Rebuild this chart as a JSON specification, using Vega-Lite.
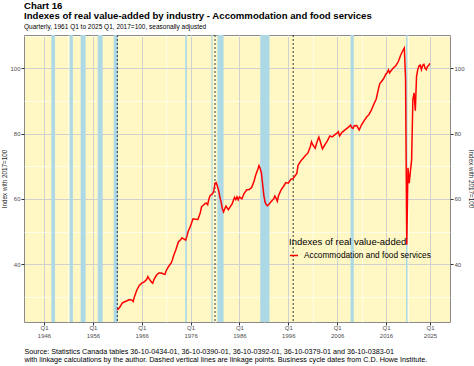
{
  "$schema": "https://vega.github.io/schema/vega-lite/v6.json",
  "width": 426,
  "height": 287,
  "autosize": {"type": "none"},
  "padding": {"left": 24, "top": 35, "right": 24, "bottom": 44},
  "background": "white",
  "config": {
    "font": "Liberation Sans",
    "view": {"fill": "#FFF8C5", "stroke": "#8a8a8a", "strokeWidth": 1}
  },
  "title": {
    "text": ["Chart 16", "Indexes of real value-added by industry - Accommodation and food services"],
    "subtitle": "Quarterly, 1961 Q1 to 2025 Q1, 2017=100, seasonally adjusted",
    "anchor": "start",
    "frame": "group",
    "fontSize": 9.6,
    "fontWeight": "bold",
    "lineHeight": 10.5,
    "color": "black",
    "subtitleFontSize": 6.5,
    "subtitleColor": "black",
    "subtitlePadding": 3,
    "offset": 4
  },
  "datasets": {
    "series": [
      {"t": 1961.0, "v": 26.0}, {"t": 1961.5, "v": 26.8}, {"t": 1962.0, "v": 28.1}, {"t": 1962.5, "v": 28.5},
      {"t": 1963.0, "v": 28.8}, {"t": 1963.5, "v": 29.2}, {"t": 1964.0, "v": 29.0}, {"t": 1964.25, "v": 28.6},
      {"t": 1964.5, "v": 30.0}, {"t": 1965.0, "v": 32.1}, {"t": 1965.5, "v": 33.5}, {"t": 1966.0, "v": 34.2},
      {"t": 1966.5, "v": 34.6}, {"t": 1967.0, "v": 35.3}, {"t": 1967.25, "v": 36.2}, {"t": 1967.5, "v": 35.6},
      {"t": 1968.0, "v": 34.5}, {"t": 1968.25, "v": 34.2}, {"t": 1968.5, "v": 35.3}, {"t": 1969.0, "v": 36.6},
      {"t": 1969.5, "v": 37.3}, {"t": 1970.0, "v": 37.3}, {"t": 1970.5, "v": 37.0}, {"t": 1970.75, "v": 36.9},
      {"t": 1971.0, "v": 38.0}, {"t": 1971.5, "v": 39.3}, {"t": 1972.0, "v": 40.3}, {"t": 1972.25, "v": 41.2},
      {"t": 1972.5, "v": 42.5}, {"t": 1973.0, "v": 44.5}, {"t": 1973.5, "v": 46.8}, {"t": 1974.0, "v": 47.6},
      {"t": 1974.25, "v": 48.1}, {"t": 1974.5, "v": 47.8}, {"t": 1975.0, "v": 47.4}, {"t": 1975.25, "v": 48.6},
      {"t": 1975.5, "v": 50.0}, {"t": 1976.0, "v": 51.8}, {"t": 1976.5, "v": 53.9}, {"t": 1977.0, "v": 53.8},
      {"t": 1977.5, "v": 53.7}, {"t": 1978.0, "v": 55.8}, {"t": 1978.25, "v": 57.6}, {"t": 1978.5, "v": 57.9},
      {"t": 1979.0, "v": 58.6}, {"t": 1979.25, "v": 58.7}, {"t": 1979.5, "v": 58.2}, {"t": 1979.75, "v": 60.0},
      {"t": 1980.0, "v": 61.0}, {"t": 1980.5, "v": 61.6}, {"t": 1980.75, "v": 62.5}, {"t": 1981.0, "v": 64.8},
      {"t": 1981.25, "v": 65.0}, {"t": 1981.5, "v": 63.8}, {"t": 1981.75, "v": 62.5}, {"t": 1982.0, "v": 60.5},
      {"t": 1982.25, "v": 59.0}, {"t": 1982.5, "v": 57.0}, {"t": 1982.75, "v": 56.0}, {"t": 1983.0, "v": 57.0},
      {"t": 1983.25, "v": 57.8}, {"t": 1983.5, "v": 57.2}, {"t": 1983.75, "v": 56.7}, {"t": 1984.0, "v": 57.3},
      {"t": 1984.5, "v": 58.5}, {"t": 1985.0, "v": 60.5}, {"t": 1985.25, "v": 59.8}, {"t": 1985.5, "v": 60.6},
      {"t": 1985.75, "v": 59.7}, {"t": 1986.0, "v": 60.6}, {"t": 1986.5, "v": 60.0}, {"t": 1987.0, "v": 61.8},
      {"t": 1987.5, "v": 62.8}, {"t": 1988.0, "v": 62.9}, {"t": 1988.5, "v": 63.5}, {"t": 1989.0, "v": 65.5},
      {"t": 1989.25, "v": 66.9}, {"t": 1989.5, "v": 68.0}, {"t": 1989.75, "v": 69.0}, {"t": 1990.0, "v": 70.2},
      {"t": 1990.25, "v": 69.3}, {"t": 1990.5, "v": 67.9}, {"t": 1990.75, "v": 64.5}, {"t": 1991.0, "v": 61.0},
      {"t": 1991.25, "v": 59.0}, {"t": 1991.5, "v": 58.2}, {"t": 1991.75, "v": 57.9}, {"t": 1992.0, "v": 58.3},
      {"t": 1992.5, "v": 59.2}, {"t": 1993.0, "v": 60.0}, {"t": 1993.25, "v": 60.9}, {"t": 1993.5, "v": 60.2},
      {"t": 1993.75, "v": 59.3}, {"t": 1994.0, "v": 61.0}, {"t": 1994.5, "v": 62.7}, {"t": 1995.0, "v": 63.8},
      {"t": 1995.5, "v": 65.0}, {"t": 1996.0, "v": 64.8}, {"t": 1996.5, "v": 66.0}, {"t": 1997.0, "v": 66.3},
      {"t": 1997.5, "v": 67.3}, {"t": 1997.75, "v": 67.8}, {"t": 1998.0, "v": 70.3}, {"t": 1998.5, "v": 71.5},
      {"t": 1999.0, "v": 72.4}, {"t": 1999.5, "v": 73.3}, {"t": 2000.0, "v": 74.0}, {"t": 2000.5, "v": 76.0},
      {"t": 2000.75, "v": 77.5}, {"t": 2001.0, "v": 76.6}, {"t": 2001.5, "v": 75.5}, {"t": 2001.75, "v": 76.8},
      {"t": 2002.0, "v": 78.0}, {"t": 2002.25, "v": 78.9}, {"t": 2002.5, "v": 77.8}, {"t": 2002.75, "v": 76.5},
      {"t": 2003.0, "v": 75.3}, {"t": 2003.5, "v": 76.6}, {"t": 2004.0, "v": 77.8}, {"t": 2004.5, "v": 79.3},
      {"t": 2005.0, "v": 79.0}, {"t": 2005.5, "v": 79.6}, {"t": 2006.0, "v": 80.2}, {"t": 2006.25, "v": 80.6},
      {"t": 2006.5, "v": 79.3}, {"t": 2007.0, "v": 80.4}, {"t": 2007.5, "v": 81.0}, {"t": 2008.0, "v": 81.6},
      {"t": 2008.5, "v": 82.2}, {"t": 2008.75, "v": 82.6}, {"t": 2009.0, "v": 81.8}, {"t": 2009.25, "v": 81.6},
      {"t": 2009.5, "v": 82.4}, {"t": 2010.0, "v": 82.5}, {"t": 2010.25, "v": 81.8}, {"t": 2010.5, "v": 81.1},
      {"t": 2011.0, "v": 82.7}, {"t": 2011.5, "v": 83.9}, {"t": 2012.0, "v": 85.0}, {"t": 2012.5, "v": 85.8},
      {"t": 2013.0, "v": 87.2}, {"t": 2013.5, "v": 89.0}, {"t": 2014.0, "v": 90.6}, {"t": 2014.5, "v": 94.0},
      {"t": 2014.75, "v": 95.4}, {"t": 2015.0, "v": 95.8}, {"t": 2015.5, "v": 96.8}, {"t": 2016.0, "v": 98.3},
      {"t": 2016.25, "v": 98.6}, {"t": 2016.5, "v": 99.5}, {"t": 2016.75, "v": 98.6}, {"t": 2017.0, "v": 99.2},
      {"t": 2017.5, "v": 100.1}, {"t": 2018.0, "v": 100.8}, {"t": 2018.5, "v": 102.0}, {"t": 2019.0, "v": 104.0},
      {"t": 2019.5, "v": 105.6}, {"t": 2019.75, "v": 106.2}, {"t": 2020.0, "v": 97.0}, {"t": 2020.25, "v": 46.0},
      {"t": 2020.5, "v": 69.5}, {"t": 2020.75, "v": 64.8}, {"t": 2021.0, "v": 68.5}, {"t": 2021.25, "v": 72.0},
      {"t": 2021.5, "v": 90.5}, {"t": 2021.75, "v": 92.5}, {"t": 2022.0, "v": 87.0}, {"t": 2022.25, "v": 97.5},
      {"t": 2022.5, "v": 99.6}, {"t": 2022.75, "v": 100.7}, {"t": 2023.0, "v": 101.0}, {"t": 2023.25, "v": 99.6},
      {"t": 2023.5, "v": 100.9}, {"t": 2023.75, "v": 101.2}, {"t": 2024.0, "v": 100.0}, {"t": 2024.25, "v": 99.6},
      {"t": 2024.5, "v": 100.6}, {"t": 2024.75, "v": 100.9}, {"t": 2025.0, "v": 101.5}
    ],
    "recessions": [
      {"start": 1947.5, "end": 1948.25}, {"start": 1951.25, "end": 1951.9}, {"start": 1953.5, "end": 1954.5},
      {"start": 1957.0, "end": 1958.0}, {"start": 1960.25, "end": 1961.1}, {"start": 1974.9, "end": 1975.25},
      {"start": 1980.25, "end": 1980.5}, {"start": 1981.5, "end": 1982.75}, {"start": 1990.25, "end": 1992.15},
      {"start": 2008.75, "end": 2009.4}, {"start": 2020.1, "end": 2020.4}
    ],
    "links": [{"t": 1961.0}, {"t": 1981.0}, {"t": 1997.0}]
  },
  "layer": [
    {
      "data": {"name": "recessions"},
      "mark": {"type": "rect", "color": "#ADD8E6"},
      "encoding": {
        "x": {
          "field": "start", "type": "quantitative",
          "scale": {"domain": [1941.9, 2029.1], "nice": false, "zero": false},
          "axis": {
            "values": [1946, 1951, 1956, 1961, 1966, 1971, 1976, 1981, 1986, 1991, 1996, 2001, 2006, 2011, 2016, 2020.5, 2025],
            "labelExpr": "(datum.value % 10 == 6 || datum.value == 2025) ? ['Q1', format(datum.value, 'd')] : ''",
            "labelOverlap": false,
            "labelFlush": false,
            "labelFontSize": 6,
            "labelColor": "#4d4d4d",
            "labelLineHeight": 8.2,
            "labelPadding": -1,
            "grid": true,
            "gridColor": {"condition": {"test": "datum.value % 10 == 6 || datum.value == 2025", "value": "#d0d0d0"}, "value": "#ffffff"},
            "gridWidth": {"condition": {"test": "datum.value % 10 == 6 || datum.value == 2025", "value": 1}, "value": 0.6},
            "tickOpacity": {"condition": {"test": "datum.value % 10 == 6 || datum.value == 2025", "value": 1}, "value": 0},
            "tickColor": "#333333",
            "tickSize": 3,
            "domain": false,
            "title": ["Source: Statistics Canada tables 36-10-0434-01, 36-10-0390-01, 36-10-0392-01, 36-10-0379-01 and 36-10-0383-01", "with linkage calculations by the author. Dashed vertical lines are linkage points. Business cycle dates from C.D. Howe Institute."],
            "titleFontSize": 7.2,
            "titleFontWeight": "normal",
            "titleColor": "black",
            "titleAnchor": "start",
            "titleAlign": "left",
            "titleBaseline": "top",
            "titleX": 0,
            "titleY": 25,
            "titleLineHeight": 8.5
          }
        },
        "x2": {"field": "end"}
      }
    },
    {
      "data": {"name": "links"},
      "mark": {"type": "rule", "color": "#222222", "strokeDash": [2, 2], "strokeWidth": 0.9},
      "encoding": {
        "x": {"field": "t", "type": "quantitative", "axis": null}
      }
    },
    {
      "data": {"name": "series"},
      "mark": {"type": "line", "strokeWidth": 1.5},
      "encoding": {
        "x": {"field": "t", "type": "quantitative", "axis": null},
        "y": {
          "field": "v", "type": "quantitative",
          "scale": {"domain": [22.3, 110.2], "nice": false, "zero": false},
          "axis": {
            "orient": "left",
            "values": [30, 40, 50, 60, 70, 80, 90, 100, 110],
            "labelExpr": "datum.value % 20 == 0 ? datum.label : ''",
            "labelFontSize": 6,
            "labelColor": "#4d4d4d",
            "labelPadding": 1,
            "grid": true,
            "gridColor": {"condition": {"test": "datum.value % 20 == 0", "value": "#d0d0d0"}, "value": "#ffffff"},
            "gridWidth": {"condition": {"test": "datum.value % 20 == 0", "value": 1}, "value": 0.6},
            "tickOpacity": {"condition": {"test": "datum.value % 20 == 0", "value": 1}, "value": 0},
            "tickColor": "#333333",
            "tickSize": 3,
            "domain": false,
            "title": "Index with 2017=100",
            "titleFontSize": 6.3,
            "titleFontWeight": "normal",
            "titleColor": "#222222",
            "titlePadding": 2
          }
        },
        "color": {
          "datum": "Accommodation and food services",
          "scale": {"range": ["#ff0000"]},
          "legend": {
            "title": "Indexes of real value-added",
            "orient": "none",
            "legendX": 265,
            "legendY": 202,
            "padding": 0,
            "titleFontSize": 9.5,
            "titleFontWeight": "normal",
            "titleColor": "black",
            "titlePadding": 4,
            "labelFontSize": 8.3,
            "labelColor": "black",
            "labelOffset": 5,
            "symbolType": "stroke",
            "symbolStrokeWidth": 1.5,
            "symbolSize": 64
          }
        }
      }
    },
    {
      "data": {"name": "series"},
      "mark": {"type": "line", "strokeOpacity": 0},
      "encoding": {
        "x": {"field": "t", "type": "quantitative", "axis": null},
        "y": {
          "field": "v", "type": "quantitative",
          "axis": {
            "orient": "right",
            "values": [40, 60, 80, 100],
            "labelFontSize": 6,
            "labelColor": "#4d4d4d",
            "labelPadding": 1,
            "grid": false,
            "tickColor": "#333333",
            "tickSize": 3,
            "domain": false,
            "title": "Index with 2017=100",
            "titleFontSize": 6.3,
            "titleFontWeight": "normal",
            "titleColor": "#222222",
            "titlePadding": 3
          }
        }
      }
    }
  ],
  "resolve": {"axis": {"x": "independent", "y": "independent"}}
}
